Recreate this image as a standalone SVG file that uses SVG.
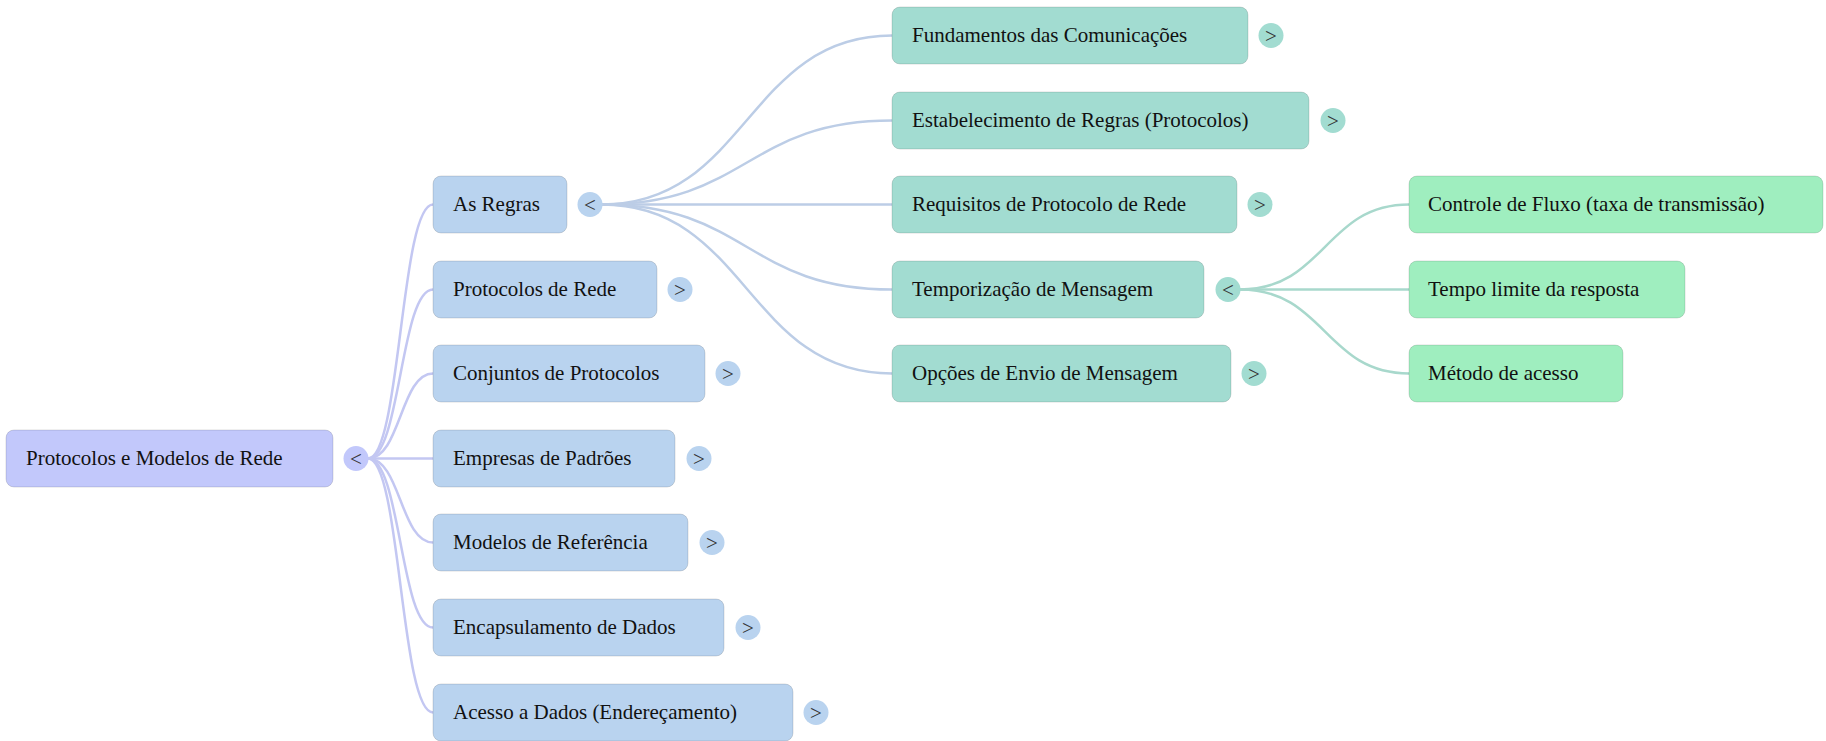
<svg xmlns="http://www.w3.org/2000/svg" width="1826" height="741" viewBox="0 0 1826 741">
<style>
  text { font-family: "Liberation Serif", "Times New Roman", serif; font-size: 21px; fill: #111; }
  .tg { text-anchor: middle; fill: #333; }
  .box { stroke: rgba(0,0,0,0.13); stroke-width: 1; }
  .r { fill: #c2c8fb; }
  .l1 { fill: #b9d3ef; }
  .l2 { fill: #a2dcd1; }
  .l3 { fill: #9feebf; }
  .c0 { fill: none; stroke: #c3c7f2; stroke-width: 2.5; }
  .c1 { fill: none; stroke: #bccde6; stroke-width: 2.5; }
  .c2 { fill: none; stroke: #a8d8cc; stroke-width: 2.5; }
</style>
<rect width="1826" height="741" fill="#ffffff"/>
<g id="connectors">
  <path class="c0" d="M368 458.5 C400.5 458.5 400.5 204.5 433 204.5"/>
  <path class="c0" d="M368 458.5 C400.5 458.5 400.5 289.5 433 289.5"/>
  <path class="c0" d="M368 458.5 C400.5 458.5 400.5 373.5 433 373.5"/>
  <path class="c0" d="M368 458.5 L433 458.5"/>
  <path class="c0" d="M368 458.5 C400.5 458.5 400.5 542.5 433 542.5"/>
  <path class="c0" d="M368 458.5 C400.5 458.5 400.5 627.5 433 627.5"/>
  <path class="c0" d="M368 458.5 C400.5 458.5 400.5 712.5 433 712.5"/>
  <path class="c1" d="M602 204.5 C747 204.5 747 35.5 892 35.5"/>
  <path class="c1" d="M602 204.5 C747 204.5 747 120.5 892 120.5"/>
  <path class="c1" d="M602 204.5 L892 204.5"/>
  <path class="c1" d="M602 204.5 C747 204.5 747 289.5 892 289.5"/>
  <path class="c1" d="M602 204.5 C747 204.5 747 373.5 892 373.5"/>
  <path class="c2" d="M1240 289.5 C1325 289.5 1325 204.5 1409 204.5"/>
  <path class="c2" d="M1240 289.5 L1409 289.5"/>
  <path class="c2" d="M1240 289.5 C1325 289.5 1325 373.5 1409 373.5"/>
</g>
<g id="root">
  <rect class="box r" x="6" y="430" width="327" height="57" rx="8"/>
  <text x="26" y="465">Protocolos e Modelos de Rede</text>
  <circle class="r" cx="356" cy="458.5" r="12.5"/>
  <text class="tg" x="356" y="465.5">&lt;</text>
</g>
<g id="as-regras">
  <rect class="box l1" x="433" y="176" width="134" height="57" rx="8"/>
  <text x="453" y="211">As Regras</text>
  <circle class="l1" cx="590" cy="204.5" r="12.5"/>
  <text class="tg" x="590" y="211.5">&lt;</text>
</g>
<g id="protocolos-de-rede">
  <rect class="box l1" x="433" y="261" width="224" height="57" rx="8"/>
  <text x="453" y="296">Protocolos de Rede</text>
  <circle class="l1" cx="680" cy="289.5" r="12.5"/>
  <text class="tg" x="680" y="296.5">&gt;</text>
</g>
<g id="conjuntos-de-protocolos">
  <rect class="box l1" x="433" y="345" width="272" height="57" rx="8"/>
  <text x="453" y="380">Conjuntos de Protocolos</text>
  <circle class="l1" cx="728" cy="373.5" r="12.5"/>
  <text class="tg" x="728" y="380.5">&gt;</text>
</g>
<g id="empresas-de-padroes">
  <rect class="box l1" x="433" y="430" width="242" height="57" rx="8"/>
  <text x="453" y="465">Empresas de Padrões</text>
  <circle class="l1" cx="699" cy="458.5" r="12.5"/>
  <text class="tg" x="699" y="465.5">&gt;</text>
</g>
<g id="modelos-de-referencia">
  <rect class="box l1" x="433" y="514" width="255" height="57" rx="8"/>
  <text x="453" y="549">Modelos de Referência</text>
  <circle class="l1" cx="712" cy="542.5" r="12.5"/>
  <text class="tg" x="712" y="549.5">&gt;</text>
</g>
<g id="encapsulamento-de-dados">
  <rect class="box l1" x="433" y="599" width="291" height="57" rx="8"/>
  <text x="453" y="634">Encapsulamento de Dados</text>
  <circle class="l1" cx="748" cy="627.5" r="12.5"/>
  <text class="tg" x="748" y="634.5">&gt;</text>
</g>
<g id="acesso-a-dados">
  <rect class="box l1" x="433" y="684" width="360" height="57" rx="8"/>
  <text x="453" y="719">Acesso a Dados (Endereçamento)</text>
  <circle class="l1" cx="816" cy="712.5" r="12.5"/>
  <text class="tg" x="816" y="719.5">&gt;</text>
</g>
<g id="fundamentos">
  <rect class="box l2" x="892" y="7" width="356" height="57" rx="8"/>
  <text x="912" y="42">Fundamentos das Comunicações</text>
  <circle class="l2" cx="1271" cy="35.5" r="12.5"/>
  <text class="tg" x="1271" y="42.5">&gt;</text>
</g>
<g id="estabelecimento">
  <rect class="box l2" x="892" y="92" width="417" height="57" rx="8"/>
  <text x="912" y="127">Estabelecimento de Regras (Protocolos)</text>
  <circle class="l2" cx="1333" cy="120.5" r="12.5"/>
  <text class="tg" x="1333" y="127.5">&gt;</text>
</g>
<g id="requisitos">
  <rect class="box l2" x="892" y="176" width="345" height="57" rx="8"/>
  <text x="912" y="211">Requisitos de Protocolo de Rede</text>
  <circle class="l2" cx="1260" cy="204.5" r="12.5"/>
  <text class="tg" x="1260" y="211.5">&gt;</text>
</g>
<g id="temporizacao">
  <rect class="box l2" x="892" y="261" width="312" height="57" rx="8"/>
  <text x="912" y="296">Temporização de Mensagem</text>
  <circle class="l2" cx="1228" cy="289.5" r="12.5"/>
  <text class="tg" x="1228" y="296.5">&lt;</text>
</g>
<g id="opcoes">
  <rect class="box l2" x="892" y="345" width="339" height="57" rx="8"/>
  <text x="912" y="380">Opções de Envio de Mensagem</text>
  <circle class="l2" cx="1254" cy="373.5" r="12.5"/>
  <text class="tg" x="1254" y="380.5">&gt;</text>
</g>
<g id="controle-de-fluxo">
  <rect class="box l3" x="1409" y="176" width="414" height="57" rx="8"/>
  <text x="1428" y="211">Controle de Fluxo (taxa de transmissão)</text>
</g>
<g id="tempo-limite">
  <rect class="box l3" x="1409" y="261" width="276" height="57" rx="8"/>
  <text x="1428" y="296">Tempo limite da resposta</text>
</g>
<g id="metodo-de-acesso">
  <rect class="box l3" x="1409" y="345" width="214" height="57" rx="8"/>
  <text x="1428" y="380">Método de acesso</text>
</g>
</svg>
